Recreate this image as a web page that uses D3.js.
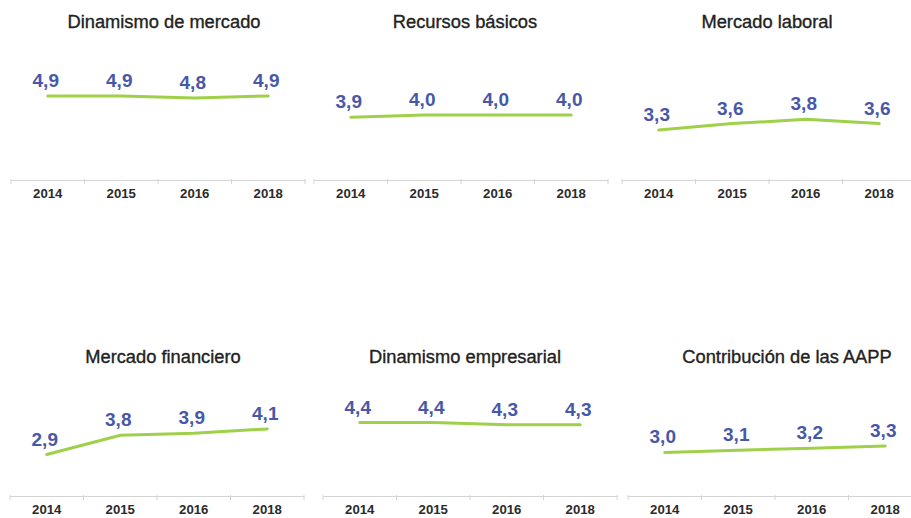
<!doctype html>
<html lang="es">
<head>
<meta charset="UTF-8">
<title>Indicadores</title>
<script src="https://cdn.jsdelivr.net/npm/d3@7"></script>
<style>
    body { margin: 0; background: #fff; }
    text { font-family: "Liberation Sans", Arial, sans-serif; }
</style>
</head>
<body>
<svg id="chart" width="911" height="518"></svg>
<script>
    // datos
    const years = ["2014", "2015", "2016", "2018"];
    const titles = ["Dinamismo de mercado", "Recursos básicos", "Mercado laboral",
                    "Mercado financiero", "Dinamismo empresarial", "Contribución de las AAPP"];
    const dinamismoMercado = [4.9, 4.9, 4.8, 4.9];
    const recursosBasicos = [3.9, 4.0, 4.0, 4.0];
    const mercadoLaboral = [3.3, 3.6, 3.8, 3.6];
    const mercadoFinanciero = [2.9, 3.8, 3.9, 4.1];
    const dinamismoEmpresarial = [4.4, 4.4, 4.3, 4.3];
    const contribucionAAPP = [3.0, 3.1, 3.2, 3.3];
    const series = [dinamismoMercado, recursosBasicos, mercadoLaboral,
                    mercadoFinanciero, dinamismoEmpresarial, contribucionAAPP];

    // layout of the six small panels
    const axisLeft = [11, 314, 622, 10, 323, 628];
    const axisY = [180, 180, 180, 496, 496, 496];
    const titleX = [164, 465, 767, 163, 465, 787];
    const titleY = [28, 28, 28, 363, 363, 363];
    const panelW = 294;

    const fmt = d3.formatLocale({decimal: ",", thousands: ".", grouping: [3], currency: ["", "€"]}).format(".1f");

    const svg = d3.select("#chart");

    series.forEach((vals, i) => {
        const g = svg.append("g");
        const x = d3.scaleBand().domain(years).range([axisLeft[i], axisLeft[i] + panelW]);
        const y = d3.scaleLinear().domain([1, 6]).range([axisY[i] - 1, axisY[i] - 1 - 5 * 21.3]);
        const pts = years.map((yr, k) => ({yr, v: vals[k]}));

        g.append("text")
            .attr("x", titleX[i])
            .attr("y", titleY[i])
            .attr("text-anchor", "middle")
            .attr("font-size", 18.3)
            .attr("fill", "#222")
            .attr("stroke", "#222")
            .attr("stroke-width", 0.35)
            .text(titles[i]);

        const ax = g.append("g")
            .attr("transform", `translate(0,${axisY[i]})`)
            .call(d3.axisBottom(x).tickSize(0).tickPadding(9));
        ax.select(".domain").attr("stroke", "#d4d4d4").attr("stroke-width", 1.2);
        ax.selectAll(".tick text")
            .attr("font-family", "Liberation Sans, Arial, sans-serif")
            .attr("font-size", 13.2)
            .attr("font-weight", "bold")
            .attr("fill", "#2b2b2b");
        // separators between years
        ax.selectAll(".sep")
            .data(d3.range(years.length + 1))
            .enter().append("line")
            .attr("x1", k => axisLeft[i] + k * x.step())
            .attr("x2", k => axisLeft[i] + k * x.step())
            .attr("y1", -1)
            .attr("y2", 4)
            .attr("stroke", "#d4d4d4")
            .attr("stroke-width", 1);

        const line = d3.line()
            .x(d => x(d.yr) + x.bandwidth() / 2)
            .y(d => y(d.v))
            .curve(d3.curveLinear);

        g.append("path")
            .datum(pts)
            .attr("d", line)
            .attr("fill", "none")
            .attr("stroke", "#9fd04a")
            .attr("stroke-width", 3)
            .attr("stroke-linecap", "round");

        g.selectAll(".val")
            .data(pts)
            .enter().append("text")
            .attr("x", d => x(d.yr) + x.bandwidth() / 2 - 2)
            .attr("y", d => y(d.v) - 9)
            .attr("text-anchor", "middle")
            .attr("font-size", 19)
            .attr("font-weight", "bold")
            .attr("fill", "#4858a8")
            .text(d => fmt(d.v));
    });
</script>
</body>
</html>
